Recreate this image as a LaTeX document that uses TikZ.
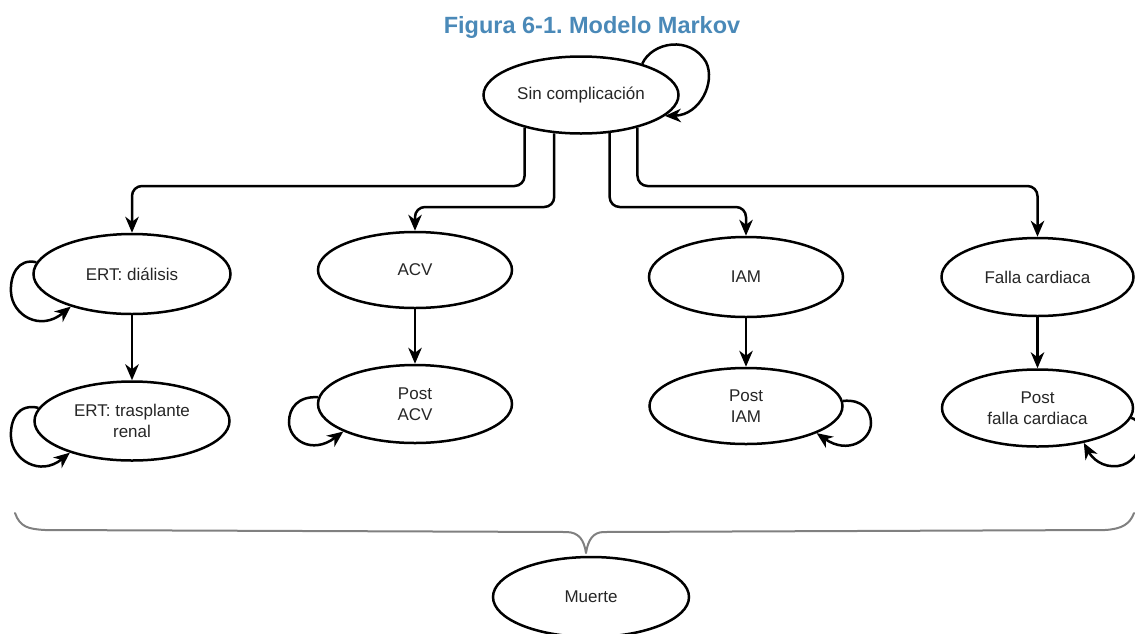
\documentclass[tikz,border=0pt]{standalone}
\usepackage{fontspec}
\setmainfont{Liberation Sans}
\usetikzlibrary{shapes.geometric,arrows.meta}
\definecolor{titleblue}{RGB}{74,137,184}
\definecolor{bracegray}{RGB}{128,128,128}
\frenchspacing
\begin{document}
\begin{tikzpicture}[x=1pt,y=-1pt,
  state/.style={ellipse,draw,line width=2.5pt,fill=white,inner sep=0pt,align=center,
    font=\fontsize{17}{21}\selectfont,text=black!85},
  arr/.style={line width=2.5pt,-{Stealth[length=16pt,width=13.5pt,inset=5pt]}},
  elbow/.style={rounded corners=10pt}]
\useasboundingbox (0,0) rectangle (1135,633);
\node[font=\fontsize{23.5}{28}\selectfont\bfseries,text=titleblue,anchor=base] (title) at (592,33) {Figura 6-1. Modelo Markov};
% nodes
\node[state,minimum width=195pt,minimum height=77pt] (sin) at (581,95) {Sin complicación};
\node[state,minimum width=197pt,minimum height=80pt] (ert1) at (132,274) {ERT: diálisis};
\node[state,minimum width=195pt,minimum height=79pt] (ert2) at (132,421) {ERT: trasplante\\renal};
\node[state,minimum width=194pt,minimum height=76pt] (acv) at (415,270) {ACV};
\node[state,minimum width=194pt,minimum height=78pt] (pacv) at (415,404) {Post\\ACV};
\node[state,minimum width=194pt,minimum height=80pt] (iam) at (746,277) {IAM};
\node[state,minimum width=193pt,minimum height=76pt] (piam) at (746,406) {Post\\IAM};
\node[state,minimum width=192pt,minimum height=78pt] (falla) at (1037.5,277) {Falla cardiaca};
\node[state,minimum width=191pt,minimum height=77pt] (pfalla) at (1037.5,408) {Post\\falla cardiaca};
\node[state,minimum width=196pt,minimum height=80pt] (muerte) at (591,597) {Muerte};
% helper levels
\coordinate (h1) at (0,186);
\coordinate (h2) at (0,207);
% connectors from top node
\draw[arr,elbow] (sin.210) |- (h1 -| ert1.north) -- (ert1.north);
\draw[arr,elbow] (sin.235) |- (h2 -| acv.north) -- (acv.north);
\draw[arr,elbow] (sin.307) |- (h2 -| iam.north) -- (iam.north);
\draw[arr,elbow] (sin.330.6) |- (h1 -| falla.north) -- (falla.north);
% vertical arrows
\draw[arr] (ert1.south) -- (ert2.north);
\draw[arr] (acv.south) -- (pacv.north);
\draw[arr] (iam.south) -- (piam.north);
\draw[arr] (falla.south) -- (pfalla.north);
% self loops
\draw[arr] (sin.27) .. controls (652,42) and (690,35) .. (706,62) .. controls (716,82) and (700,115) .. (sin.-14);
\draw[arr] (ert1.173) .. controls (18,258) and (10,275) .. (11,292) .. controls (12,315) and (40,332) .. (ert1.208);
\draw[arr] (ert2.172) .. controls (18,403) and (10,420) .. (11,437) .. controls (12,460) and (40,477) .. (ert2.207);
\draw[arr] (pacv.176) .. controls (298,396) and (289,408) .. (289,422) .. controls (289,440) and (312,455) .. (pacv.201);
\draw[arr] (piam.3) .. controls (862,399) and (871,410) .. (871,423) .. controls (871,440) and (848,455) .. (piam.339);
\draw[arr] (pfalla.354) .. controls (1148,422) and (1145,462) .. (1118,466) .. controls (1102,468) and (1092,458) .. (pfalla.323);
% brace
\draw[bracegray,line width=2pt,line cap=round,line join=round]
  (15,513) .. controls (20,527) and (28,529) .. (45,530) -- (566,532)
  .. controls (579,532) and (584,540) .. (586,553)
  .. controls (588,540) and (593,532) .. (604,532) -- (1105,530)
  .. controls (1122,529) and (1130,524) .. (1134,513);
\end{tikzpicture}
\end{document}
